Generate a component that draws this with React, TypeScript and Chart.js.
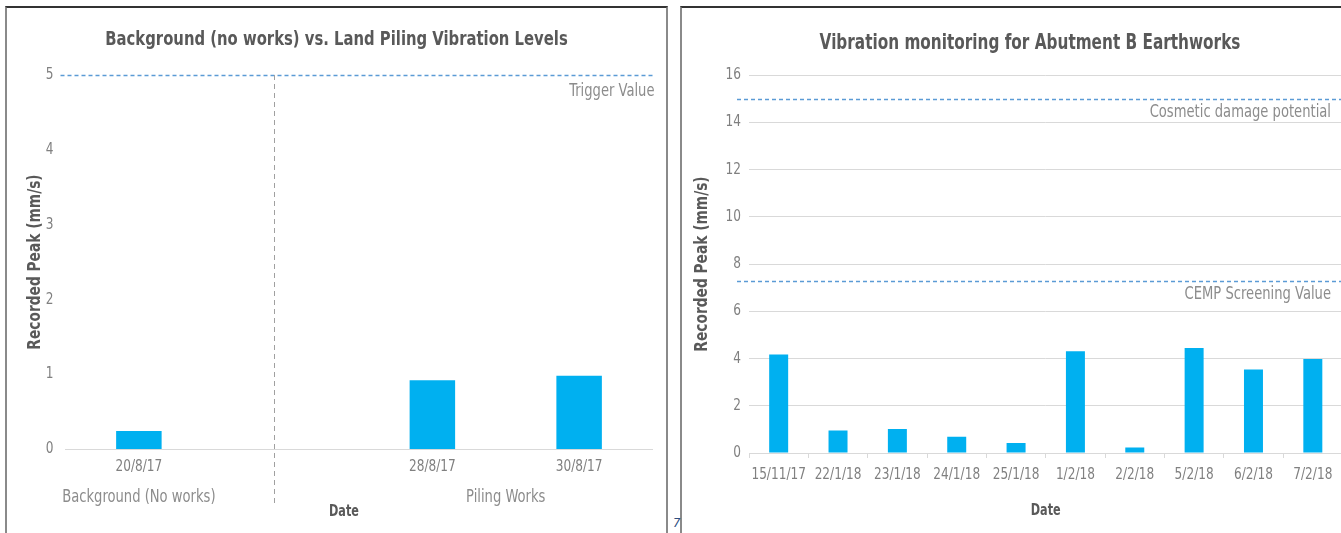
import React, { useEffect, useRef } from "react";
import { Chart, registerables } from "chart.js";

Chart.register(...registerables);

// ---------- data: left chart ----------
const leftTitle = "Background (no works) vs. Land Piling Vibration Levels";
const leftCategories = ["20/8/17", "", "28/8/17", "30/8/17"];
const leftValues = [0.24, null, 0.92, 0.98];
const leftYMin = 0;
const leftYMax = 5;
const leftYStep = 1;
const leftTriggerValue = 5;
const leftTriggerLabel = "Trigger Value";
const leftGroupLabels = ["Background (No works)", "Piling Works"];
const leftGroupMembers = [[0], [2, 3]];
const leftDividerAt = 0.92; // in category units

// ---------- data: right chart ----------
const rightTitle = "Vibration monitoring for Abutment B Earthworks";
const rightCategories = [
  "15/11/17",
  "22/1/18",
  "23/1/18",
  "24/1/18",
  "25/1/18",
  "1/2/18",
  "2/2/18",
  "5/2/18",
  "6/2/18",
  "7/2/18",
];
const rightValues = [4.17, 0.95, 1.02, 0.69, 0.42, 4.31, 0.23, 4.44, 3.53, 3.98];
const rightYMin = 0;
const rightYMax = 16;
const rightYStep = 2;
const rightRefValues = [15, 7.3];
const rightRefLabels = ["Cosmetic damage potential", "CEMP Screening Value"];

const yAxisTitle = "Recorded Peak (mm/s)";
const xAxisTitle = "Date";

// ---------- styles ----------
const FAMILY = '"DejaVu Sans Condensed", "DejaVu Sans", sans-serif';
const STRETCH = 1.2; // text drawn taller, then squeezed horizontally
const BAR = "#00B0F0";
const REF = "#5B9BD5";
const GRID = "#D9D9D9";
const TICK = "#808080";
const TITLE = "#595959";
const NOTE = "#8C8C8C";
const TICK_SIZE = 13.5;
const NOTE_SIZE = 14.6;
const YTITLE_SIZE = 15.3;
const XTITLE_SIZE = 12.5;

type TextOpts = { size: number; color: string; align?: CanvasTextAlign; bold?: boolean; rotate?: boolean };

function drawText(ctx: CanvasRenderingContext2D, text: string, x: number, y: number, o: TextOpts) {
  ctx.save();
  ctx.translate(x, y);
  if (o.rotate) ctx.rotate(-Math.PI / 2);
  ctx.scale(1 / STRETCH, 1);
  ctx.font = `${o.bold ? "bold " : ""}${o.size * STRETCH}px ${FAMILY}`;
  ctx.fillStyle = o.color;
  ctx.textAlign = o.align || "center";
  ctx.textBaseline = "middle";
  ctx.fillText(text, 0, 0);
  ctx.restore();
}

function drawDashed(ctx: CanvasRenderingContext2D, x1: number, y1: number, x2: number, y2: number, color: string, dash: number[], w = 1.3) {
  ctx.save();
  ctx.strokeStyle = color;
  ctx.lineWidth = w;
  ctx.setLineDash(dash);
  ctx.beginPath();
  ctx.moveTo(x1, y1);
  ctx.lineTo(x2, y2);
  ctx.stroke();
  ctx.restore();
}

function drawAxisTexts(chart: any, cfg: { yTickGap: number; xTickDy: number; yTitleX: number; xTitleDy: number; xTitleDx: number }) {
  const { ctx, chartArea } = chart;
  const xs = chart.scales.x;
  const ys = chart.scales.y;
  ys.ticks.forEach((t: any, i: number) => {
    drawText(ctx, String(t.label), chartArea.left - cfg.yTickGap, ys.getPixelForTick(i), { size: TICK_SIZE, color: TICK, align: "right" });
  });
  xs.ticks.forEach((t: any, i: number) => {
    const lbl = String(t.label ?? "");
    if (lbl) drawText(ctx, lbl, xs.getPixelForTick(i), chartArea.bottom + cfg.xTickDy, { size: TICK_SIZE, color: TICK });
  });
  drawText(ctx, yAxisTitle, cfg.yTitleX, (chartArea.top + chartArea.bottom) / 2, {
    size: YTITLE_SIZE,
    color: TITLE,
    bold: true,
    rotate: true,
  });
  drawText(ctx, xAxisTitle, (chartArea.left + chartArea.right) / 2 + cfg.xTitleDx, chartArea.bottom + cfg.xTitleDy, {
    size: XTITLE_SIZE,
    color: TITLE,
    bold: true,
  });
}

function baseOptions(padRight: number, yMin: number, yMax: number, yStep: number, yWidth: number, xHeight: number, yGrid: boolean, xTickMarks: boolean) {
  return {
    responsive: false,
    animation: false,
    layout: { padding: { left: 0, right: padRight, top: 67, bottom: 0 } },
    plugins: {
      legend: { display: false },
      tooltip: { enabled: false },
      title: { display: false },
    },
    scales: {
      x: {
        grid: xTickMarks
          ? { display: true, drawOnChartArea: false, drawTicks: true, tickLength: 5, color: GRID, offset: true }
          : { display: false },
        border: { display: true, color: GRID },
        ticks: { display: false, autoSkip: false, maxRotation: 0 },
        afterFit: (s: any) => {
          s.height = xHeight;
        },
      },
      y: {
        min: yMin,
        max: yMax,
        grid: yGrid ? { display: true, color: GRID, drawTicks: false } : { display: false, drawTicks: false },
        border: { display: false },
        ticks: { display: false, stepSize: yStep },
        afterFit: (s: any) => {
          s.width = yWidth;
        },
      },
    },
  } as any;
}

function makeLeft(canvas: HTMLCanvasElement) {
  const annot = {
    id: "leftAnnot",
    afterDraw(chart: any) {
      const { ctx, chartArea } = chart;
      const xs = chart.scales.x;
      const ys = chart.scales.y;
      const ty = Math.round(ys.getPixelForValue(leftTriggerValue)) + 0.5;
      drawDashed(ctx, chartArea.left - 5, ty, chartArea.right, ty, REF, [4, 3]);
      drawText(ctx, leftTriggerLabel, chartArea.right + 2, ty + 16, { size: NOTE_SIZE, color: NOTE, align: "right" });
      const dx = Math.round(xs.getPixelForValue(leftDividerAt)) + 0.5;
      drawDashed(ctx, dx, chartArea.top, dx, chartArea.bottom + 56, "#A0A0A0", [5, 4], 1);
      leftGroupLabels.forEach((lbl, i) => {
        const members = leftGroupMembers[i];
        const cx = members.reduce((a, m) => a + xs.getPixelForValue(m), 0) / members.length;
        drawText(ctx, lbl, cx, chartArea.bottom + 48, { size: NOTE_SIZE, color: NOTE });
      });
      drawAxisTexts(chart, { yTickGap: 12, xTickDy: 18, yTitleX: 28, xTitleDy: 63, xTitleDx: -15 });
      drawText(ctx, leftTitle, chart.width / 2, 32, { size: 16.5, color: TITLE, bold: true });
    },
  };
  return new Chart(canvas, {
    type: "bar",
    data: {
      labels: leftCategories,
      datasets: [
        {
          data: leftValues as any,
          backgroundColor: BAR,
          barPercentage: 0.31,
          categoryPercentage: 1,
        },
      ],
    },
    options: baseOptions(13.5, leftYMin, leftYMax, leftYStep, 58.5, 84, false, false),
    plugins: [annot],
  });
}

function makeRight(canvas: HTMLCanvasElement) {
  const annot = {
    id: "rightAnnot",
    afterDraw(chart: any) {
      const { ctx, chartArea } = chart;
      const ys = chart.scales.y;
      rightRefValues.forEach((v, i) => {
        const y = Math.round(ys.getPixelForValue(v)) + 0.5;
        drawDashed(ctx, chartArea.left - 12, y, chartArea.right, y, REF, [4, 3]);
        drawText(ctx, rightRefLabels[i], chartArea.right - 11.5, y + 13, { size: NOTE_SIZE, color: NOTE, align: "right" });
      });
      drawAxisTexts(chart, { yTickGap: 8, xTickDy: 22, yTitleX: 20, xTitleDy: 58, xTitleDx: 0 });
      drawText(ctx, rightTitle, 348, 36, { size: 17, color: TITLE, bold: true });
    },
  };
  return new Chart(canvas, {
    type: "bar",
    data: {
      labels: rightCategories,
      datasets: [
        {
          data: rightValues,
          backgroundColor: BAR,
          barPercentage: 0.32,
          categoryPercentage: 1,
        },
      ],
    },
    options: baseOptions(35.5, rightYMin, rightYMax, rightYStep, 67, 80, true, true),
    plugins: [annot],
  });
}

export default function App() {
  const leftRef = useRef<HTMLCanvasElement | null>(null);
  const rightRef = useRef<HTMLCanvasElement | null>(null);

  useEffect(() => {
    const l = leftRef.current ? makeLeft(leftRef.current) : null;
    const r = rightRef.current ? makeRight(rightRef.current) : null;
    return () => {
      l && l.destroy();
      r && r.destroy();
    };
  }, []);

  const panelBase: React.CSSProperties = {
    position: "absolute",
    top: 6,
    height: 540,
    borderLeft: "2px solid #8A8A8A",
    borderTop: "2px solid #333333",
    background: "#fff",
  };

  return (
    <div
      style={{
        position: "fixed",
        left: 0,
        top: 0,
        width: 1341,
        height: 533,
        overflow: "hidden",
        background: "#fff",
      }}
    >
      <div style={{ ...panelBase, left: 5, width: 659, borderRight: "2px solid #8A8A8A" }}>
        <canvas ref={leftRef} width={659} height={525} style={{ display: "block" }} />
      </div>
      <div style={{ ...panelBase, left: 680, width: 696 }}>
        <canvas ref={rightRef} width={696} height={525} style={{ display: "block" }} />
      </div>
      <span
        style={{
          position: "absolute",
          left: 673,
          top: 515,
          fontFamily: FAMILY,
          fontStyle: "italic",
          fontSize: 13,
          color: "#2F4F7F",
        }}
      >
        7
      </span>
    </div>
  );
}
